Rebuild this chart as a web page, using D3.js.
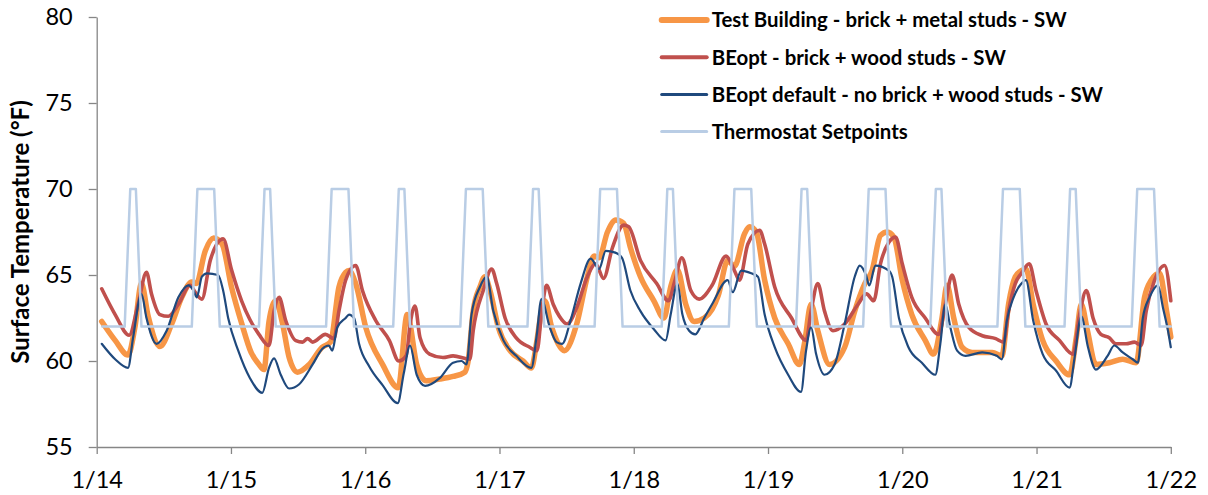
<!DOCTYPE html>
<html>
<head>
<meta charset="utf-8">
<script src="https://cdn.jsdelivr.net/npm/d3@7"></script>
<style>
  html, body { margin: 0; padding: 0; background: #ffffff; }
  svg { display: block; font-family: Lato, "Open Sans", "DejaVu Sans", sans-serif; }
</style>
</head>
<body>
<svg id="chart" width="1208" height="495"></svg>
<script>
// Hours are counted from 1/14 00:00; temperatures in °F.
const dayLabels = ["1/14", "1/15", "1/16", "1/17", "1/18", "1/19", "1/20", "1/21", "1/22"];
const yTicks = [55, 60, 65, 70, 75, 80];

// Test Building - brick + metal studs - SW  [hour, °F]
const testBuilding = [
  [0.9,62.3],[3.3,61.2],[5.6,60.35],[6.8,61.9],[8.0,64.5],[9.2,62.6],[11.3,60.85],[13.4,62.15],
  [15.2,63.7],[17.0,64.6],[17.8,64.5],[19.4,66.4],[20.9,67.15],[22.4,66.8],[24.1,64.3],[25.9,62.2],
  [27.6,60.5],[29.0,59.8],[29.9,59.5],[30.8,62.3],[32.0,63.5],[33.2,62.2],[34.4,60.2],[35.9,59.35],
  [38.0,59.8],[40.3,60.8],[41.8,61.1],[43.3,64.3],[44.5,65.15],[45.1,65.26],[46.3,64.5],[48.1,61.95],
  [51.1,59.8],[53.9,58.45],[55.5,62.7],[57.2,59.8],[58.9,58.85],[61.3,58.95],[63.7,59.1],[65.8,59.35],
  [66.4,60.0],[67.3,62.9],[68.5,64.3],[69.4,64.9],[70.3,64.1],[71.8,61.95],[73.9,60.6],[76.2,60.0],
  [77.7,59.6],[78.6,61.0],[79.5,62.9],[80.1,63.5],[81.3,62.0],[82.5,61.0],[83.6,60.6],[85.8,62.15],
  [87.7,64.9],[88.9,66.1],[89.8,66.0],[91.3,67.5],[92.8,68.2],[94.2,68.0],[95.4,66.6],[97.2,64.9],
  [99.6,63.5],[101.4,62.5],[102.6,64.3],[103.8,65.3],[105.3,63.3],[106.8,62.3],[108.6,62.5],[110.0,63.0],
  [111.1,63.8],[112.8,65.85],[114.0,65.5],[115.8,67.4],[116.7,67.8],[117.9,67.5],[119.4,64.7],[121.2,62.5],
  [123.6,61.0],[125.6,59.8],[126.5,61.0],[127.7,63.3],[128.9,61.76],[131.0,59.8],[133.7,60.8],[135.5,62.9],
  [137.3,64.5],[138.6,65.26],[140.1,67.3],[141.3,67.5],[142.5,67.2],[144.0,64.7],[145.7,62.7],[148.1,61.2],
  [149.6,60.4],[151.1,62.5],[152.0,64.4],[153.2,62.5],[154.7,60.8],[156.5,60.5],[160.1,60.5],[161.8,60.3],
  [163.0,63.3],[164.2,64.9],[165.3,65.26],[166.1,65.35],[167.4,63.3],[169.1,61.2],[171.5,60.0],[173.9,59.2],
  [175.1,61.35],[176.0,63.3],[177.1,61.76],[178.6,59.8],[181.0,59.9],[183.4,60.1],[185.8,59.9],[187.3,63.7],
  [188.5,64.7],[190.0,65.1],[191.2,63.0],[192.0,61.4]
];

// BEopt - brick + wood studs - SW  [hour, °F]
const beoptBrick = [
  [0.9,64.2],[3.3,62.7],[5.8,61.5],[7.4,63.3],[8.9,65.15],[9.8,63.9],[11.3,62.7],[12.8,62.6],
  [14.6,63.3],[16.7,64.4],[17.6,64.0],[18.8,63.6],[20.3,65.85],[22.6,67.1],[24.1,65.3],[25.9,63.5],
  [27.4,62.4],[29.0,61.55],[30.8,60.9],[31.7,62.9],[32.6,63.7],[33.8,62.34],[35.6,61.18],[36.8,61.1],
  [37.7,61.3],[38.6,61.1],[40.9,61.55],[42.4,61.3],[43.3,62.9],[44.5,64.7],[46.3,65.55],[47.5,64.1],
  [49.9,62.34],[52.3,61.2],[54.0,60.0],[55.3,60.3],[56.1,62.3],[56.9,63.2],[57.8,61.35],[59.5,60.4],
  [61.9,60.2],[63.7,60.3],[66.7,60.1],[67.3,61.76],[69.1,64.1],[70.6,65.35],[71.5,64.5],[73.0,62.5],
  [75.0,61.35],[77.4,60.8],[78.7,60.6],[79.6,63.0],[80.4,64.4],[81.6,63.3],[82.7,62.6],[84.1,62.15],
  [85.8,63.1],[87.7,64.9],[89.2,65.65],[90.6,64.8],[92.2,66.6],[94.2,67.9],[95.1,67.8],[97.2,65.85],
  [100.1,64.5],[102.2,63.5],[103.3,64.6],[104.6,66.0],[106.2,64.1],[107.7,63.6],[110.0,64.4],[112.5,66.1],
  [114.0,65.26],[114.9,64.7],[116.4,66.8],[118.5,67.6],[119.4,66.8],[121.2,64.3],[124.2,62.5],[126.8,61.2],
  [127.7,62.9],[128.9,64.5],[130.1,62.9],[131.6,61.76],[133.7,62.15],[136.1,63.3],[137.6,63.9],[138.9,63.5],
  [140.1,65.65],[141.6,66.9],[142.8,67.2],[144.0,65.65],[145.7,63.7],[148.1,62.5],[150.5,61.55],[151.7,63.3],
  [152.9,65.0],[154.1,63.3],[155.9,61.95],[158.3,61.47],[160.7,61.3],[162.1,61.1],[163.0,62.9],[164.2,64.5],
  [165.3,65.1],[166.7,65.65],[167.9,64.1],[169.7,62.15],[172.1,61.2],[174.5,60.4],[175.7,62.7],[176.9,64.1],
  [178.1,62.5],[179.5,61.55],[181.0,61.35],[182.2,61.0],[184.0,61.0],[185.5,61.1],[186.7,60.9],[187.6,62.9],
  [189.1,64.7],[190.9,65.55],[192.0,63.5]
];

// BEopt default - no brick + wood studs - SW  [hour, °F]
const beoptDefault = [
  [0.9,61.0],[3.3,60.1],[5.6,59.6],[6.5,61.35],[8.0,63.9],[8.9,62.5],[10.7,61.0],[12.5,61.76],
  [14.6,63.7],[16.4,64.4],[17.3,64.1],[17.9,63.7],[18.8,64.9],[19.7,65.1],[21.7,65.0],[22.6,64.1],
  [23.5,62.5],[25.3,60.6],[27.4,59.0],[29.6,58.15],[30.8,59.6],[31.7,60.15],[32.9,59.2],[34.4,58.4],
  [36.2,58.65],[38.6,59.8],[40.3,60.7],[41.5,60.9],[42.1,60.6],[43.0,61.95],[44.5,62.5],[45.1,62.7],
  [46.0,62.5],[46.9,61.0],[48.7,59.7],[51.1,58.6],[53.8,57.55],[54.9,59.3],[56.0,60.9],[57.2,59.2],
  [58.7,58.55],[61.3,59.0],[63.7,59.9],[65.2,60.0],[66.1,59.8],[67.0,62.7],[68.5,64.3],[69.7,64.9],
  [70.9,62.9],[72.7,61.2],[75.0,60.3],[77.7,59.6],[78.6,61.35],[79.5,63.6],[81.0,61.95],[82.2,61.1],
  [83.2,61.0],[84.7,62.35],[86.5,64.5],[88.3,65.95],[89.8,65.35],[91.0,66.4],[92.7,66.3],[93.9,66.0],
  [95.4,64.1],[97.2,62.9],[99.6,61.85],[101.7,61.2],[102.6,62.7],[103.8,64.5],[104.7,62.7],[105.9,61.76],
  [107.0,61.55],[108.6,62.5],[110.0,63.3],[112.8,64.7],[113.7,64.0],[115.2,65.26],[117.0,65.1],[118.2,64.9],
  [119.4,62.7],[121.2,60.8],[123.6,59.2],[125.9,58.2],[126.8,60.6],[127.7,61.95],[128.6,60.4],[130.1,59.2],
  [131.9,59.8],[133.7,62.15],[135.5,64.9],[136.4,65.55],[137.5,65.0],[138.1,64.4],[139.2,65.55],[141.6,65.26],
  [142.2,64.9],[143.4,62.5],[145.1,60.8],[147.5,59.9],[149.9,59.2],[150.8,61.0],[151.7,63.3],[152.6,61.95],
  [153.8,60.6],[155.3,60.3],[158.3,60.5],[160.9,60.3],[161.8,60.1],[162.7,62.35],[163.9,63.7],[165.3,64.5],
  [166.1,64.7],[167.4,62.35],[169.1,60.4],[171.5,59.43],[173.9,58.45],[174.8,60.2],[176.0,62.6],[177.2,60.8],
  [178.6,59.5],[180.7,60.3],[181.9,60.9],[183.4,60.5],[185.2,60.1],[186.1,59.9],[187.0,62.5],[188.2,63.7],
  [189.7,64.4],[190.6,63.1],[191.5,61.76],[192.0,60.8]
];

// Thermostat setpoints, hourly from 1/14 01:00 to 1/22 00:00 (°F)
const setpointStartHour = 1;
const setpoints = [
  62,62,62,62,62,70,70,62,62,62,62,62,62,62,62,62,62,70,70,70,70,62,62,62,
  62,62,62,62,62,70,70,62,62,62,62,62,62,62,62,62,62,70,70,70,70,62,62,62,
  62,62,62,62,62,70,70,62,62,62,62,62,62,62,62,62,62,70,70,70,70,62,62,62,
  62,62,62,62,62,70,70,62,62,62,62,62,62,62,62,62,62,70,70,70,70,62,62,62,
  62,62,62,62,62,70,70,62,62,62,62,62,62,62,62,62,62,70,70,70,70,62,62,62,
  62,62,62,62,62,70,70,62,62,62,62,62,62,62,62,62,62,70,70,70,70,62,62,62,
  62,62,62,62,62,70,70,62,62,62,62,62,62,62,62,62,62,70,70,70,70,62,62,62,
  62,62,62,62,62,70,70,62,62,62,62,62,62,62,62,62,62,70,70,70,70,62,62,62
];

const seriesNames = [
  "Test Building - brick + metal studs - SW",
  "BEopt - brick + wood studs - SW",
  "BEopt default - no brick + wood studs - SW",
  "Thermostat Setpoints"
];

// ---- layout ----
const W = 1208, H = 495;
const margin = { top: 17, right: 37.2, bottom: 48, left: 96.7 };
const svg = d3.select("#chart");

const x = d3.scaleLinear()
  .domain([0, (dayLabels.length - 1) * 24])
  .range([margin.left, W - margin.right]);
const y = d3.scaleLinear()
  .domain([d3.min(yTicks), d3.max(yTicks)])
  .range([H - margin.bottom, margin.top]);

const axisColor = "#868686";

// ---- axes ----
const yAxis = svg.append("g")
  .attr("transform", `translate(${margin.left},0)`)
  .call(d3.axisLeft(y).tickValues(yTicks).tickSize(8).tickSizeOuter(0).tickPadding(16).tickFormat(d3.format("d")));
const xAxis = svg.append("g")
  .attr("transform", `translate(0,${H - margin.bottom})`)
  .call(d3.axisBottom(x)
    .tickValues(dayLabels.map((d, i) => i * 24))
    .tickFormat((d, i) => dayLabels[i])
    .tickSize(7).tickSizeOuter(0).tickPadding(17));

[yAxis, xAxis].forEach(g => {
  g.select(".domain").attr("stroke", axisColor).attr("stroke-width", 1.3);
  g.selectAll(".tick line").attr("stroke", axisColor).attr("stroke-width", 1.3);
  g.selectAll(".tick text")
    .attr("fill", "#000")
    .style("font-size", "23.5px")
    .style("font-family", "Lato, 'Open Sans', sans-serif");
});

svg.append("text")
  .attr("transform", `translate(29,${(margin.top + H - margin.bottom) / 2}) rotate(-90)`)
  .attr("text-anchor", "middle")
  .style("font-size", "24px")
  .style("font-weight", "bold")
  .attr("fill", "#000")
  .text("Surface Temperature (°F)");

// ---- lines ----
const smooth = d3.line()
  .x(d => x(d[0]))
  .y(d => y(d[1]))
  .curve(d3.curveMonotoneX);
const straight = d3.line()
  .x(d => x(d[0]))
  .y(d => y(d[1]));

const setpointSeries = setpoints.map((v, i) => [setpointStartHour + i, v]);

const styles = [
  { color: "#F79646", width: 5.5, legendWidth: 6 },
  { color: "#C0504D", width: 3.6, legendWidth: 4 },
  { color: "#1F497D", width: 2.2, legendWidth: 3 },
  { color: "#B9CDE5", width: 2.5, legendWidth: 3 }
];

const plot = svg.append("g").attr("fill", "none").attr("stroke-linejoin", "round").attr("stroke-linecap", "round");
[testBuilding, beoptBrick, beoptDefault].forEach((data, i) => {
  plot.append("path")
    .datum(data)
    .attr("stroke", styles[i].color)
    .attr("stroke-width", styles[i].width)
    .attr("d", smooth);
});
plot.append("path")
  .datum(setpointSeries)
  .attr("stroke", styles[3].color)
  .attr("stroke-width", styles[3].width)
  .attr("d", straight);

// ---- legend ----
const legend = svg.append("g").attr("transform", "translate(661.7,20)");
seriesNames.forEach((name, i) => {
  const row = legend.append("g").attr("transform", `translate(0,${i * 37.2})`);
  row.append("line")
    .attr("x1", 0).attr("x2", 45)
    .attr("y1", 0).attr("y2", 0)
    .attr("stroke", styles[i].color)
    .attr("stroke-width", styles[i].legendWidth)
    .attr("stroke-linecap", "round");
  row.append("text")
    .attr("x", 50)
    .attr("y", 7.4)
    .style("font-size", "20.4px")
    .style("font-weight", "bold")
    .attr("fill", "#000")
    .text(name);
});
</script>
</body>
</html>
